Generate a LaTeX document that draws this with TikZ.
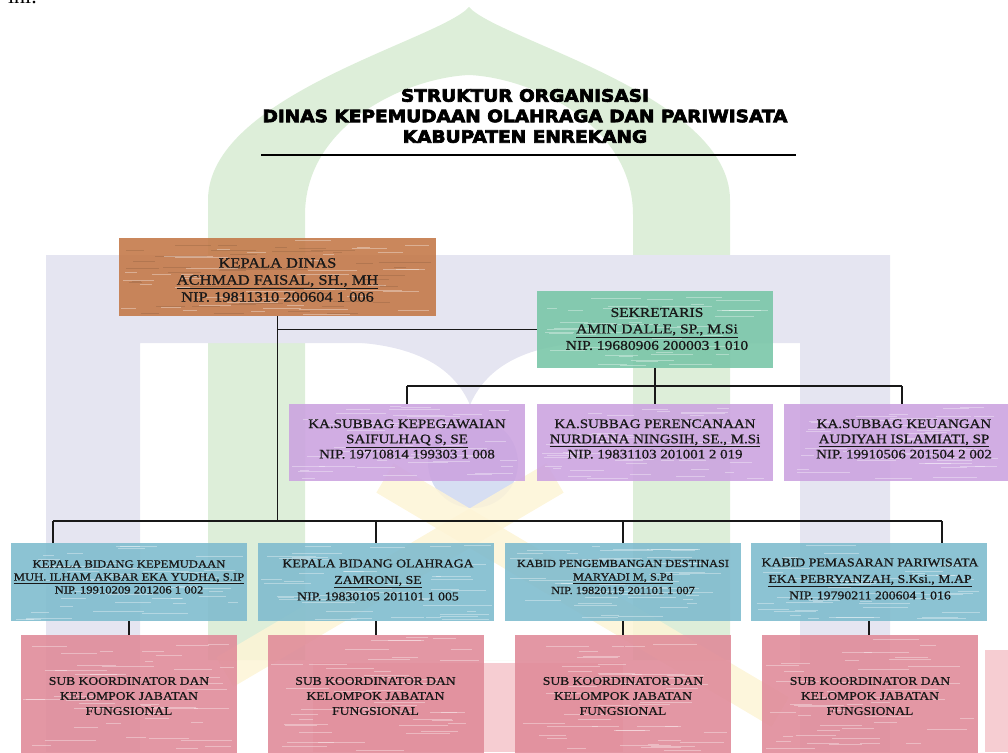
\documentclass[tikz,border=0pt]{standalone}
\usepackage{fontspec}
\setmainfont{Liberation Serif}
\newfontfamily\boxfont[FakeStretch=1.15,FakeBold=0.8]{Liberation Serif}
\newfontfamily\titlefont[FakeStretch=1.09,FakeBold=4]{DejaVu Sans Bold}
\definecolor{wmgreen}{RGB}{221,238,217}
\definecolor{wmblue}{RGB}{229,229,241}
\definecolor{wmcircle}{RGB}{214,222,242}
\definecolor{wmyellow}{RGB}{253,244,214}
\definecolor{wmred}{RGB}{246,205,210}
\definecolor{kdcol}{RGB}{196,122,74}
\definecolor{sekcol}{RGB}{122,198,168}
\definecolor{sbcol}{RGB}{204,164,224}
\definecolor{bdcol}{RGB}{128,188,206}
\definecolor{skcol}{RGB}{224,140,154}
\definecolor{ink}{RGB}{24,24,24}
\newcommand{\grainbox}[5]{%
  \foreach \gi in {1,...,45}{%
    \pgfmathsetmacro{\gl}{8+rnd*45}%
    \pgfmathsetmacro{\gx}{#1+2+rnd*(#3-#1-\gl-4)}%
    \pgfmathsetmacro{\gy}{#2+2+rnd*(#4-#2-4)}%
    \draw[#5] (\gx,\gy) -- ++(\gl,0);
  }%
}
\tikzset{
  orgbox/.style={draw=none, inner sep=0pt, minimum width=236pt, minimum height=78pt, fill opacity=0.9},
  txt/.style={font=\boxfont, align=center, text=ink, inner sep=0pt},
  conn/.style={draw=ink, line width=1.1pt},
  lightgrain/.style={white, opacity=0.35, line width=0.6pt},
  darkgrain/.style={black, opacity=0.10, line width=0.6pt},
}
\begin{document}
\begin{tikzpicture}[x=1pt,y=-1pt]
\useasboundingbox (0,0) rectangle (1008,752);
\pgfmathsetseed{42}
% ---------- watermark ----------
\fill[wmgreen, even odd rule]
  (208,660) -- (208,200) .. controls (208,95) and (440,40) .. (469,7) .. controls (498,40) and (730,95) .. (730,200) -- (730,660) -- cycle
  (305,660) -- (305,215) .. controls (305,125) and (405,78) .. (469,75) .. controls (533,78) and (633,125) .. (633,215) -- (633,660) -- cycle;
\fill[wmblue] (46,752) -- (46,255) -- (890,255) -- (890,752) -- (800,752) -- (800,343) -- (140,343) -- (140,752) -- cycle;
\fill[wmblue] (347,342) .. controls (420,345) and (455,370) .. (470,405) .. controls (485,370) and (520,345) .. (593,342) -- cycle;
\fill[wmcircle] (473,463) circle (45);
\draw[wmyellow, line width=34pt, opacity=0.85] (385,478) -- (780,712);
\draw[wmyellow, line width=34pt, opacity=0.85] (555,478) -- (225,672);
\fill[wmred] (313,663) rectangle (623,752);
\fill[wmred] (985,650) rectangle (1008,752);
% ---------- fragment and title ----------
\node[anchor=base east, font=\fontsize{22}{24}\selectfont, inner sep=0pt] (frag) at (37,4) {ini.};
\node[font=\titlefont\fontsize{17}{20.5}\selectfont, align=center, inner sep=0pt, text=black] (title) at (525,116)
  {STRUKTUR ORGANISASI\\DINAS KEPEMUDAAN OLAHRAGA DAN PARIWISATA\\KABUPATEN ENREKANG};
\coordinate (rl) at (261,155);
\coordinate (rr) at (796,155);
\draw[line width=2.5pt, black] (rl) -- (rr);
% ---------- boxes ----------
\node[orgbox, fill=kdcol, minimum width=317pt] (kd) at (277.5,277) {};
\grainbox{119}{238}{436}{316}{darkgrain}
\grainbox{119}{238}{436}{316}{lightgrain}
\node[orgbox, fill=sekcol, minimum height=77pt] (sek) at (655,329.5) {};
\grainbox{537}{291}{773}{368}{lightgrain}
\node[orgbox, fill=sbcol, minimum height=77pt] (sb1) at (407,442.5) {};
\node[orgbox, fill=sbcol, minimum height=77pt] (sb2) at (655,442.5) {};
\node[orgbox, fill=sbcol, minimum height=77pt] (sb3) at (902,442.5) {};
\grainbox{289}{404}{525}{481}{lightgrain}
\grainbox{537}{404}{773}{481}{lightgrain}
\grainbox{784}{404}{1008}{481}{lightgrain}
\node[orgbox, fill=bdcol] (bd1) at (129,582) {};
\node[orgbox, fill=bdcol] (bd2) at (376,582) {};
\node[orgbox, fill=bdcol] (bd3) at (623,582) {};
\node[orgbox, fill=bdcol] (bd4) at (869,582) {};
\grainbox{11}{543}{247}{621}{lightgrain}
\grainbox{258}{543}{494}{621}{lightgrain}
\grainbox{505}{543}{741}{621}{lightgrain}
\grainbox{751}{543}{987}{621}{lightgrain}
\node[orgbox, fill=skcol, minimum width=216pt, minimum height=122pt] (sk1) at (129,696) {};
\node[orgbox, fill=skcol, minimum width=216pt, minimum height=122pt] (sk2) at (375.5,696) {};
\node[orgbox, fill=skcol, minimum width=216pt, minimum height=122pt] (sk3) at (623,696) {};
\node[orgbox, fill=skcol, minimum width=216pt, minimum height=122pt] (sk4) at (870,696) {};
\grainbox{21}{635}{237}{752}{lightgrain}
\grainbox{268}{635}{483}{752}{lightgrain}
\grainbox{515}{635}{731}{752}{lightgrain}
\grainbox{762}{635}{978}{752}{lightgrain}
% ---------- texts ----------
\node[txt, font=\boxfont\fontsize{14.3}{17}\selectfont] (kdt) at (277.5,280)
  {KEPALA DINAS\\\underline{ACHMAD FAISAL, SH., MH}\\NIP. 19811310 200604 1 006};
\node[txt, font=\boxfont\fontsize{13.5}{16.5}\selectfont] (sekt) at (657,329)
  {SEKRETARIS\\\underline{AMIN DALLE, SP., M.Si}\\NIP. 19680906 200003 1 010};
\node[txt, font=\boxfont\fontsize{13}{15.2}\selectfont] (sb1t) at (407,439)
  {KA.SUBBAG KEPEGAWAIAN\\\underline{SAIFULHAQ S, SE}\\NIP. 19710814 199303 1 008};
\node[txt, font=\boxfont\fontsize{13}{15.2}\selectfont] (sb2t) at (655,439)
  {KA.SUBBAG PERENCANAAN\\\underline{NURDIANA NINGSIH, SE., M.Si}\\NIP. 19831103 201001 2 019};
\node[txt, font=\boxfont\fontsize{13}{15.2}\selectfont] (sb3t) at (904,439)
  {KA.SUBBAG KEUANGAN\\\underline{AUDIYAH ISLAMIATI, SP}\\NIP. 19910506 201504 2 002};
\node[txt, font=\boxfont\fontsize{11}{13}\selectfont] (bd1t) at (129,577)
  {KEPALA BIDANG KEPEMUDAAN\\\underline{MUH. ILHAM AKBAR EKA YUDHA, S.IP}\\NIP. 19910209 201206 1 002};
\node[txt, font=\boxfont\fontsize{12}{16.5}\selectfont] (bd2t) at (378,580)
  {KEPALA BIDANG OLAHRAGA\\\underline{ZAMRONI, SE}\\NIP. 19830105 201101 1 005};
\node[txt, font=\boxfont\fontsize{10.7}{13.5}\selectfont] (bd3t) at (623,577)
  {KABID PENGEMBANGAN DESTINASI\\\underline{MARYADI M, S.Pd}\\NIP. 19820119 201101 1 007};
\node[txt, font=\boxfont\fontsize{12}{16.5}\selectfont] (bd4t) at (870,579)
  {KABID PEMASARAN PARIWISATA\\\underline{EKA PEBRYANZAH, S.Ksi., M.AP}\\NIP. 19790211 200604 1 016};
\foreach \k/\xx in {1/129, 2/375.5, 3/623, 4/870}{
  \node[txt, font=\boxfont\fontsize{11.8}{15}\selectfont] (sk\k t) at (\xx,696)
    {SUB KOORDINATOR DAN\\KELOMPOK JABATAN\\FUNGSIONAL};
}
% ---------- connectors ----------
\coordinate (kdbus) at (277.5,521);
\coordinate (bl) at (53,521);
\coordinate (br) at (942,521);
\coordinate (sl) at (407,386);
\coordinate (sr) at (902,386);
\draw[conn] (kd.south) -- (kdbus);
\draw[conn] (kd.south |- sek.west) -- (sek.west);
\draw[conn] (bl) -- (br);
\draw[conn] (bl) -- (bl |- bd1.north);
\draw[conn] (bd2.north |- bl) -- (bd2.north);
\draw[conn] (bd3.north |- bl) -- (bd3.north);
\draw[conn] (br) -- (br |- bd4.north);
\draw[conn] (sek.south) -- (sek.south |- sl);
\draw[conn] (sl) -- (sr);
\draw[conn] (sl) -- (sb1.north);
\draw[conn] (sb2.north |- sl) -- (sb2.north);
\draw[conn] (sr) -- (sb3.north);
\draw[conn] (bd1.south) -- (bd1.south |- sk1.north);
\draw[conn] (bd2.south) -- (bd2.south |- sk2.north);
\draw[conn] (bd3.south) -- (bd3.south |- sk3.north);
\draw[conn] (bd4.south) -- (bd4.south |- sk4.north);
\end{tikzpicture}
\end{document}
